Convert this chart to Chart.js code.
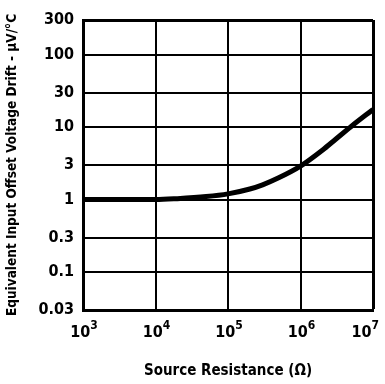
<!DOCTYPE html>
<html>
<head>
<meta charset="utf-8">
<script src="https://cdn.jsdelivr.net/npm/chart.js@4/dist/chart.umd.min.js"></script>
<style>
  html, body { margin: 0; padding: 0; background: #fff; }
  #wrap { width: 385px; height: 384px; }
</style>
</head>
<body>
<div id="wrap"><canvas id="grafica"></canvas></div>
<script>
// datos
const resistance = [1e3, 3e3, 1e4, 2e4, 5e4, 1e5, 2e5, 3e5, 5e5, 1e6, 2e6, 3e6, 5e6, 1e7];
const drift = [1.0, 1.0, 1.0, 1.03, 1.1, 1.2, 1.4, 1.6, 2.0, 2.9, 4.8, 6.7, 10.2, 17.5];

const xTicks = [1e3, 1e4, 1e5, 1e6, 1e7];
const xTickBase = '10';
const xTickExp = ['3', '4', '5', '6', '7'];
const yTicks = [0.03, 0.1, 0.3, 1, 3, 10, 30, 100, 300];
const yTickLabels = ['0.03', '0.1', '0.3', '1', '3', '10', '30', '100', '300'];

const fuente = "'DejaVu Sans Condensed', 'DejaVu Sans', sans-serif";

// etiquetas del eje x con exponente grande (10^n)
const etiquetasX = {
    id: 'etiquetasX',
    afterDraw(chart) {
        const c = chart.ctx;
        const sx = chart.scales.x;
        const yBase = chart.chartArea.bottom + 27;
        c.save();
        c.fillStyle = '#000';
        c.textBaseline = 'alphabetic';
        xTicks.forEach((v, i) => {
            const px = sx.getPixelForValue(v);
            c.font = 'bold 16px ' + fuente;
            const wb = c.measureText(xTickBase).width;
            c.font = 'bold 12px ' + fuente;
            const we = c.measureText(xTickExp[i]).width;
            // la ultima etiqueta no se sale del lienzo
            const x0 = Math.min(px - (wb + we) / 2 + 1, chart.width - 6 - wb - we);
            c.font = 'bold 16px ' + fuente;
            c.textAlign = 'left';
            c.fillText(xTickBase, x0, yBase);
            c.font = 'bold 12px ' + fuente;
            c.fillText(xTickExp[i], x0 + wb, yBase - 8);
        });
        c.restore();
    }
};

const ctx = document.getElementById('grafica').getContext('2d');

const miGrafica = new Chart(ctx, {
    type: 'line',
    data: {
        datasets: [{
            data: resistance.map((r, i) => ({ x: r, y: drift[i] })),
            borderColor: '#000',
            borderWidth: 5,
            pointRadius: 0,
            fill: false,
            cubicInterpolationMode: 'monotone'
        }]
    },
    plugins: [etiquetasX],
    options: {
        responsive: true,
        maintainAspectRatio: false,
        animation: false,
        layout: { padding: { left: 4, top: 20, right: 12, bottom: 4 } },
        plugins: { legend: { display: false }, tooltip: { enabled: false } },
        scales: {
            x: {
                type: 'logarithmic',
                min: 1e3,
                max: 1e7,
                afterBuildTicks: (s) => { s.ticks = xTicks.map(v => ({ value: v })); },
                afterFit: (s) => { s.height = 70; },
                grid: {
                    color: '#000',
                    lineWidth: (c) => (c.index === xTicks.length - 1 ? 3 : 2),
                    drawTicks: false
                },
                border: { color: '#000', width: 3 },
                ticks: { display: false },
                title: {
                    display: true,
                    text: 'Source Resistance (Ω)',
                    color: '#000',
                    padding: { top: 4, bottom: 0 },
                    font: { family: fuente, size: 15, weight: 'bold' }
                }
            },
            y: {
                type: 'logarithmic',
                min: 0.03,
                max: 300,
                afterBuildTicks: (s) => { s.ticks = yTicks.map(v => ({ value: v })); },
                afterFit: (s) => { s.width = 79; },
                grid: {
                    color: '#000',
                    lineWidth: (c) => (c.index === yTicks.length - 1 ? 3 : 2),
                    drawTicks: false
                },
                border: { color: '#000', width: 3 },
                ticks: {
                    color: '#000',
                    padding: 9,
                    font: { family: fuente, size: 16, weight: 'bold' },
                    callback: (v, i) => yTickLabels[i]
                },
                title: {
                    display: true,
                    text: 'Equivalent Input Offset Voltage Drift - μV/°C',
                    color: '#000',
                    padding: { top: 0, bottom: 0 },
                    font: { family: fuente, size: 13.5, weight: 'bold' }
                }
            }
        }
    }
});
</script>
</body>
</html>
